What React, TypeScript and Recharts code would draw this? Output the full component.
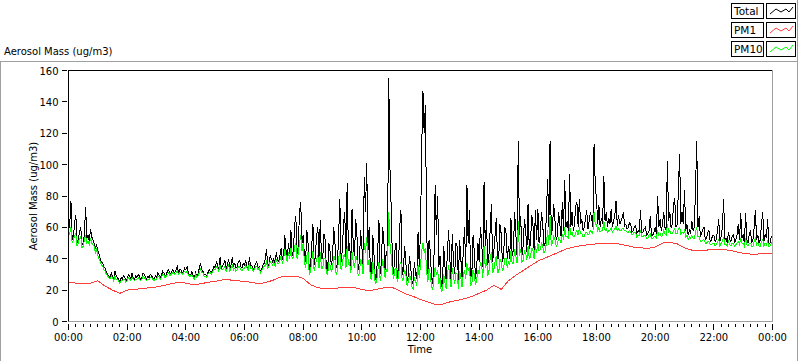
import { LineChart, Line, XAxis, YAxis } from 'recharts';

// 2.5-minute samples, 00:00 .. 24:00 (577 values), one row per hour
const totalMass = [
  58, 62, 77, 52, 54, 63, 68, 50, 52, 57, 60, 49, 50, 56, 73, 53, 55, 51, 59, 54, 52, 50, 47, 49,
  45, 43, 40, 38, 37, 35, 34, 31, 30, 29, 28, 31, 29, 27, 32, 29, 28, 27, 25, 28, 27, 29, 28, 26,
  27, 30, 29, 27, 31, 28, 27, 29, 28, 30, 29, 27, 28, 31, 30, 28, 27, 29, 28, 30, 29, 28, 27, 29,
  28, 31, 30, 28, 29, 32, 31, 29, 30, 32, 33, 30, 31, 33, 32, 31, 33, 35, 31, 33, 33, 31, 32, 34,
  33, 35, 31, 30, 30, 32, 29, 28, 31, 29, 30, 34, 37, 33, 32, 30, 30, 29, 31, 33, 32, 31, 33, 35,
  34, 38, 36, 33, 41, 34, 35, 37, 39, 33, 36, 40, 34, 36, 41, 35, 37, 34, 35, 38, 39, 35, 34, 37,
  36, 39, 35, 34, 41, 35, 36, 33, 34, 37, 38, 34, 35, 32, 33, 36, 37, 40, 46, 35, 36, 42, 40, 38,
  40, 36, 44, 39, 38, 42, 47, 39, 42, 55, 45, 40, 50, 43, 58, 42, 44, 62, 67, 43, 48, 70, 76, 50,
  55, 42, 38, 58, 50, 33, 35, 48, 62, 36, 42, 55, 60, 38, 65, 40, 40, 56, 52, 34, 32, 50, 45, 36,
  40, 60, 50, 34, 36, 55, 78, 38, 45, 62, 70, 40, 88, 45, 50, 35, 72, 48, 42, 65, 55, 33, 38, 58,
  48, 35, 92, 70, 101, 45, 60, 32, 30, 55, 42, 27, 28, 45, 65, 30, 38, 60, 52, 33, 45, 40, 155, 98,
  73, 40, 30, 45, 50, 28, 35, 60, 71, 30, 32, 48, 38, 26, 29, 42, 34, 26, 24, 38, 30, 27, 57, 35,
  58, 111, 147, 120, 138, 60, 30, 52, 45, 28, 24, 40, 87, 55, 80, 35, 42, 22, 25, 48, 35, 26, 44, 58,
  40, 25, 56, 38, 30, 50, 48, 26, 52, 40, 28, 45, 60, 35, 87, 50, 71, 28, 30, 55, 45, 27, 35, 50,
  38, 60, 52, 35, 89, 48, 65, 36, 42, 58, 75, 38, 45, 55, 66, 40, 40, 62, 56, 38, 42, 60, 56, 40,
  48, 40, 66, 42, 45, 70, 56, 42, 115, 55, 67, 42, 48, 65, 60, 44, 75, 46, 50, 68, 62, 45, 71, 52,
  72, 50, 55, 70, 62, 48, 50, 68, 91, 60, 115, 55, 60, 75, 65, 52, 55, 70, 62, 54, 76, 58, 90, 60,
  64, 58, 94, 60, 70, 58, 62, 74, 76, 60, 78, 62, 65, 58, 60, 66, 71, 59, 64, 70, 66, 60, 113, 87,
  78, 62, 74, 60, 66, 62, 93, 64, 70, 60, 66, 62, 72, 60, 64, 68, 77, 61, 68, 62, 64, 66, 70, 61,
  62, 59, 60, 63, 62, 57, 58, 60, 61, 56, 58, 57, 71, 56, 57, 59, 60, 55, 56, 58, 67, 55, 55, 57,
  60, 56, 80, 60, 65, 58, 62, 70, 60, 58, 102, 64, 70, 60, 62, 74, 79, 60, 62, 84, 107, 62, 70, 62,
  84, 58, 62, 55, 58, 56, 64, 58, 60, 84, 115, 60, 67, 54, 56, 59, 60, 52, 53, 57, 58, 51, 52, 55,
  55, 51, 52, 58, 65, 51, 54, 60, 78, 52, 53, 50, 57, 52, 51, 54, 56, 50, 52, 55, 62, 52, 69, 53,
  55, 50, 69, 52, 50, 56, 58, 50, 52, 60, 71, 52, 55, 50, 52, 62, 70, 51, 56, 53, 65, 50, 50, 54, 53,
];

const pm10Mass = [
  55, 56, 60, 50, 52, 55, 56, 48, 50, 53, 54, 47, 48, 52, 55, 50, 51, 49, 53, 50, 49, 48, 44, 46,
  42, 40, 38, 36, 35, 33, 32, 30, 29, 28, 27, 29, 28, 26, 29, 27, 27, 26, 24, 26, 26, 27, 27, 25,
  26, 28, 27, 26, 28, 27, 26, 27, 27, 28, 27, 26, 27, 29, 28, 27, 26, 27, 27, 28, 28, 27, 26, 27,
  27, 29, 29, 27, 28, 30, 30, 28, 29, 30, 31, 29, 30, 31, 31, 30, 31, 32, 30, 31, 31, 30, 31, 32,
  31, 32, 30, 29, 29, 30, 28, 27, 30, 28, 29, 31, 33, 31, 31, 29, 29, 28, 30, 31, 31, 30, 32, 33,
  33, 35, 34, 32, 36, 33, 33, 34, 35, 32, 34, 36, 32, 34, 36, 33, 34, 32, 33, 35, 35, 33, 32, 34,
  34, 36, 34, 33, 37, 34, 34, 32, 33, 35, 35, 33, 34, 31, 32, 34, 35, 36, 38, 34, 35, 38, 37, 36,
  38, 35, 40, 37, 37, 39, 42, 37, 40, 46, 42, 38, 44, 40, 47, 40, 41, 48, 50, 40, 43, 50, 55, 45,
  50, 38, 34, 42, 44, 30, 32, 38, 45, 32, 36, 40, 42, 34, 44, 34, 34, 40, 40, 31, 30, 37, 36, 32,
  34, 42, 40, 30, 32, 40, 45, 33, 36, 42, 43, 34, 48, 36, 38, 31, 44, 38, 34, 42, 40, 29, 31, 40,
  38, 30, 50, 44, 54, 36, 40, 28, 27, 38, 33, 24, 25, 32, 38, 26, 30, 40, 35, 28, 33, 32, 70, 50,
  42, 32, 27, 33, 34, 25, 29, 36, 38, 26, 27, 33, 30, 23, 25, 30, 28, 22, 21, 28, 25, 23, 36, 28,
  36, 45, 50, 44, 47, 32, 25, 34, 30, 22, 20, 28, 35, 30, 33, 24, 28, 19, 20, 30, 25, 21, 30, 36,
  28, 22, 34, 28, 24, 31, 30, 21, 32, 28, 22, 30, 33, 27, 37, 32, 35, 23, 24, 33, 30, 23, 27, 33,
  30, 38, 36, 28, 48, 34, 40, 29, 32, 40, 44, 31, 33, 38, 42, 31, 31, 40, 38, 32, 34, 40, 40, 34,
  38, 36, 45, 37, 37, 46, 42, 37, 64, 42, 46, 38, 39, 45, 44, 39, 48, 40, 41, 47, 45, 40, 48, 44,
  50, 45, 46, 50, 48, 44, 45, 50, 58, 49, 67, 48, 50, 54, 52, 48, 49, 53, 52, 50, 56, 52, 60, 54,
  54, 53, 62, 55, 57, 54, 54, 57, 58, 55, 60, 56, 56, 54, 54, 57, 57, 55, 56, 58, 57, 56, 70, 62,
  62, 58, 60, 57, 58, 58, 64, 58, 59, 57, 58, 58, 60, 57, 58, 59, 61, 58, 59, 58, 58, 59, 59, 58,
  58, 57, 57, 58, 57, 55, 56, 57, 57, 54, 55, 55, 58, 54, 54, 55, 55, 53, 53, 55, 56, 53, 53, 54,
  54, 53, 58, 55, 56, 54, 55, 58, 56, 55, 62, 57, 58, 56, 56, 58, 59, 56, 56, 59, 60, 56, 57, 56,
  58, 54, 55, 52, 54, 53, 55, 53, 53, 57, 60, 54, 54, 51, 51, 52, 52, 50, 50, 51, 51, 49, 49, 50,
  50, 48, 49, 51, 52, 48, 50, 51, 54, 49, 49, 48, 51, 49, 48, 50, 50, 48, 49, 50, 51, 49, 53, 50,
  50, 48, 53, 49, 48, 50, 50, 48, 48, 51, 53, 49, 50, 48, 48, 51, 52, 48, 50, 49, 51, 48, 48, 50, 51,
];

// 15-minute samples (97 values)
const pm1Mass = [
  25, 24.5, 24, 24.5,
  26, 22.5, 20, 18,
  20, 20.5, 21, 21.5,
  22, 23, 24, 25,
  24.5, 23.5, 24, 25,
  25.5, 26.5, 26.5, 26,
  25.5, 25, 24, 25,
  26.5, 28.5, 29, 29,
  27.5, 23.5, 21.5, 21,
  21, 21.5, 22, 21.5,
  20.5, 19.5, 20.5, 21.5,
  22, 20, 17.5, 16,
  14, 12.5, 11, 11,
  12.5, 13.5, 14.5, 16,
  18, 20, 23, 20.5,
  26, 29.5, 32.5, 35.5,
  38.5, 40.5, 42.5, 44.5,
  46.5, 47.5, 48.5, 49,
  49.5, 49.5, 49.5, 49.5,
  48.5, 47.5, 47, 46.5,
  47.5, 50, 50.5, 49.5,
  47, 45.5, 45.5, 45.5,
  46, 46, 45.5, 44.5,
  43.5, 43, 43, 43.5, 43.5,
];

const timeLabels = ['00:00', '02:00', '04:00', '06:00', '08:00', '10:00', '12:00', '14:00', '16:00', '18:00', '20:00', '22:00', '00:00'];
const yTicks = [0, 20, 40, 60, 80, 100, 120, 140, 160];
const xTicks = Array.from({ length: 97 }, (_, i) => i * 15);

const rows = totalMass.map((v, i) => ({
  t: i * 2.5,
  total: v,
  pm10: pm10Mass[i],
  pm1: i % 6 === 0 ? pm1Mass[i / 6] : undefined,
}));

const FONT = '"DejaVu Sans", sans-serif';

const TimeTick = (props: any) => {
  const { x, y, payload } = props;
  const major = payload.value % 120 === 0;
  return (
    <g>
      <line x1={x} y1={y + 2} x2={x} y2={y + (major ? 8 : 5)} stroke="#000" shapeRendering="crispEdges" />
      {major && (
        <text x={x} y={y + 19} textAnchor="middle" fontSize={10} fontFamily={FONT} fill="#000">
          {timeLabels[payload.value / 120]}
        </text>
      )}
    </g>
  );
};

const MassTick = (props: any) => {
  const { x, y, payload } = props;
  return (
    <g>
      <line x1={x - 7} y1={y} x2={x - 2} y2={y} stroke="#000" shapeRendering="crispEdges" />
      <text x={x - 10} y={y + 4} textAnchor="end" fontSize={10} fontFamily={FONT} fill="#000">
        {payload.value}
      </text>
    </g>
  );
};

const legendItems = [
  { name: 'Total', color: '#000000' },
  { name: 'PM1', color: '#ff3c3c' },
  { name: 'PM10', color: '#00ff00' },
];

function Legend() {
  return (
    <div style={{ position: 'absolute', left: 731, top: 3 }}>
      {legendItems.map((it, i) => (
        <div key={it.name} style={{ position: 'absolute', left: 0, top: i * 19, width: 66, height: 16 }}>
          <div
            style={{
              position: 'absolute', left: 0, top: 0, width: 29, height: 14,
              border: '1px solid #000', background: '#fff',
              fontFamily: FONT, fontSize: 10.5, lineHeight: '14px', paddingLeft: 2, boxSizing: 'content-box',
            }}
          >
            {it.name}
          </div>
          <svg style={{ position: 'absolute', left: 35, top: 0 }} width={30} height={16}>
            <rect x={0.5} y={0.5} width={29} height={15} fill="#fff" stroke="#000" />
            <polyline points="4,11 10,6 15,9 20,6 23,9 27,4" fill="none" stroke={it.color} strokeWidth={1} />
          </svg>
        </div>
      ))}
    </div>
  );
}

export default function App() {
  return (
    <div style={{ position: 'absolute', left: 0, top: 0, width: 800, height: 361, background: '#fff', overflow: 'hidden' }}>
      {/* outer frame */}
      <div style={{ position: 'absolute', left: 0, top: 61, width: 797, height: 1, background: '#a0a0a0' }} />
      <div style={{ position: 'absolute', left: 0, top: 61, width: 1, height: 300, background: '#a0a0a0' }} />
      <div style={{ position: 'absolute', left: 797, top: 0, width: 1, height: 361, background: '#a0a0a0' }} />

      <div style={{ position: 'absolute', left: 4, top: 46, fontFamily: FONT, fontSize: 10, color: '#000', whiteSpace: 'nowrap' }}>
        Aerosol Mass (ug/m3)
      </div>

      <Legend />

      <div
        style={{
          position: 'absolute', left: 33, top: 196, fontFamily: FONT, fontSize: 10, color: '#000',
          whiteSpace: 'nowrap', transform: 'translate(-50%, -50%) rotate(-90deg)',
        }}
      >
        Aerosol Mass (ug/m3)
      </div>

      <div style={{ position: 'absolute', left: 420, top: 344, fontFamily: FONT, fontSize: 10, color: '#000', transform: 'translateX(-50%)' }}>
        Time
      </div>

      <div style={{ position: 'absolute', left: 0, top: 0 }}>
        <LineChart width={800} height={361} data={rows} margin={{ top: 70.5, right: 27.5, bottom: 9.5, left: 18.5 }}>
          <XAxis
            type="number"
            dataKey="t"
            domain={[0, 1440]}
            ticks={xTicks}
            interval={0}
            tickSize={0}
            tickMargin={0}
            tickLine={false}
            tick={<TimeTick />}
            height={30}
            axisLine={{ stroke: '#a0a0a0' }}
          />
          <YAxis
            type="number"
            domain={[0, 160]}
            ticks={yTicks}
            interval={0}
            width={50}
            tickSize={0}
            tickMargin={0}
            tickLine={false}
            tick={<MassTick />}
            axisLine={{ stroke: '#000' }}
          />
          <Line type="linear" dataKey="total" stroke="#000000" strokeWidth={1} dot={false} isAnimationActive={false} shapeRendering="crispEdges" />
          <Line type="linear" dataKey="pm1" stroke="#ff3c3c" strokeWidth={1} dot={false} connectNulls isAnimationActive={false} shapeRendering="crispEdges" />
          <Line type="linear" dataKey="pm10" stroke="#00ff00" strokeWidth={1} dot={false} isAnimationActive={false} shapeRendering="crispEdges" />
        </LineChart>
      </div>

      {/* plot frame top / right */}
      <div style={{ position: 'absolute', left: 68, top: 70, width: 705, height: 1, background: '#000' }} />
      <div style={{ position: 'absolute', left: 772, top: 70, width: 1, height: 252, background: '#a0a0a0' }} />
    </div>
  );
}
